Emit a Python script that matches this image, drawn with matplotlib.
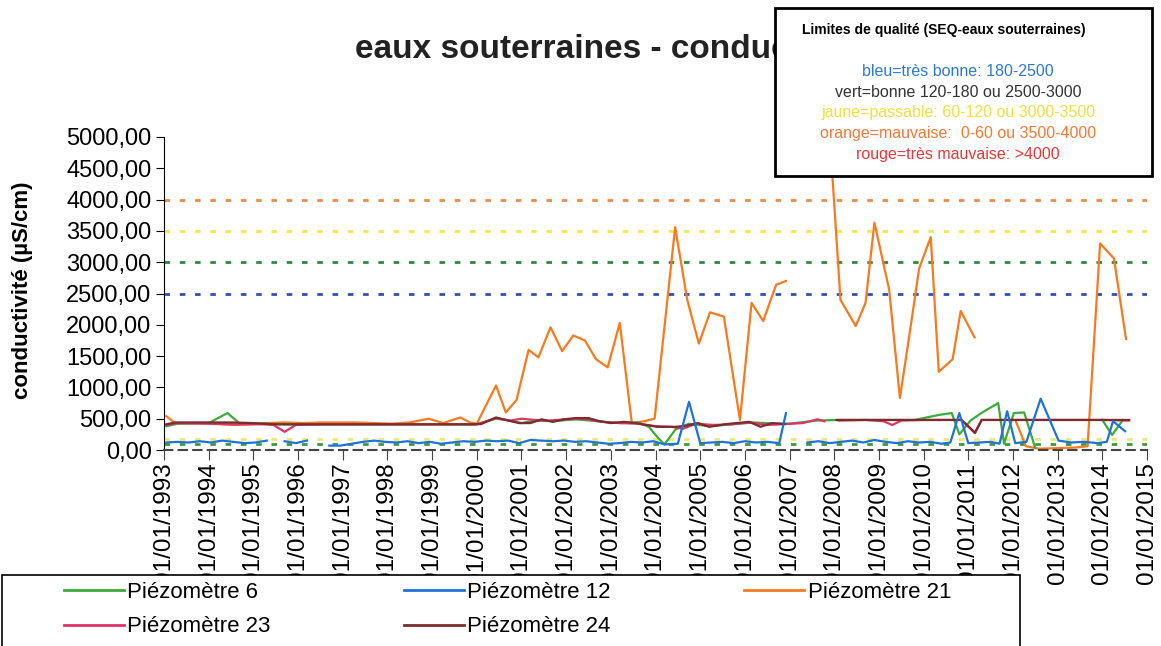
import matplotlib
matplotlib.use("Agg")
import matplotlib.pyplot as plt
from matplotlib.patches import Rectangle
from matplotlib.lines import Line2D
from matplotlib.ticker import FuncFormatter, MultipleLocator
from numpy import nan

plt.rcParams['font.family'] = ['Liberation Sans', 'DejaVu Sans']

# ---- data (decimal years / µS/cm) ----
d6 = [1993.05, 1993.30, 1994.00, 1994.42, 1994.70, 1995.20, 1995.80, 1996.50, 1997.20, 1997.90,
      1998.60, 1999.30, 2000.00, 2000.43, 2000.75, 2001.00, 2001.30, 2001.70, 2002.20, 2002.70,
      2003.20, 2003.60, 2003.85, 2004.05, 2004.20, 2004.45, 2004.75, 2005.20, 2005.70, 2006.20,
      2006.70, 2007.00, 2007.60, 2008.10, 2008.70, 2009.30, 2009.80, 2010.34, 2010.63, 2010.80,
      2011.05, 2011.29, 2011.67, 2011.80, 2012.02, 2012.25, 2012.50, 2013.20, 2014.00, 2014.22,
      2014.46]
v6 = [380, 420, 430, 590, 420, 420, 410, 410, 410, 410,
      410, 410, 410, 500, 470, 430, 470, 460, 490, 460,
      430, 440, 370, 200, 90, 330, 420, 380, 410, 440,
      420, 420, 470, 480, 480, 480, 480, 560, 590, 250,
      470, 590, 750, 100, 590, 600, 30, nan, 480, 240,
      480]

d12 = [1993.05, 1993.30, 1993.55, 1993.80, 1994.05, 1994.30, 1994.55, 1994.80, 1995.05, 1995.30,
       1995.45, 1995.70, 1995.95, 1996.20, 1996.45, 1996.70, 1996.95, 1997.20, 1997.45, 1997.70,
       1997.95, 1998.20, 1998.45, 1998.70, 1998.95, 1999.20, 1999.45, 1999.70, 1999.95, 2000.20,
       2000.45, 2000.70, 2000.95, 2001.20, 2001.45, 2001.70, 2001.95, 2002.20, 2002.45, 2002.70,
       2002.95, 2003.20, 2003.45, 2003.70, 2003.95, 2004.20, 2004.50, 2004.75, 2005.00, 2005.25,
       2005.50, 2005.75, 2006.00, 2006.25, 2006.50, 2006.77, 2006.92, 2007.10, 2007.40, 2007.65,
       2007.90, 2008.15, 2008.40, 2008.65, 2008.90, 2009.15, 2009.40, 2009.65, 2009.90, 2010.15,
       2010.40, 2010.60, 2010.80, 2011.00, 2011.25, 2011.50, 2011.70, 2011.87, 2012.05, 2012.30,
       2012.62, 2013.02, 2013.30, 2013.60, 2013.90, 2014.10, 2014.24, 2014.51]
v12 = [120, 130, 120, 140, 120, 150, 130, 110, 120, 150,
       nan, 140, 110, 150, nan, 70, 70, 100, 130, 150,
       130, 120, 140, 110, 130, 100, 120, 140, 130, 150,
       140, 150, 110, 160, 150, 140, 150, 130, 140, 120,
       100, 110, 130, 120, 140, 90, 100, 770, 110, 120,
       130, 110, 140, 120, 130, 110, 590, nan, 120, 140,
       110, 130, 150, 120, 160, 130, 110, 140, 120, 130,
       100, 120, 590, 110, 120, 130, 100, 620, 110, 130,
       820, 150, 120, 130, 110, 130, 460, 300]

d21 = [1993.05, 1993.25, 1993.55, 1993.90, 1994.30, 1994.60, 1994.90, 1995.30, 1995.70, 1996.10,
       1996.50, 1996.90, 1997.30, 1997.70, 1998.10, 1998.50, 1998.92, 1999.25, 1999.63, 1999.85,
       2000.00, 2000.43, 2000.65, 2000.89, 2001.16, 2001.38, 2001.65, 2001.91, 2002.16, 2002.42,
       2002.67, 2002.93, 2003.20, 2003.47, 2003.75, 2003.98, 2004.44, 2004.71, 2004.97, 2005.22,
       2005.53, 2005.89, 2006.15, 2006.41, 2006.70, 2006.92, 2007.40, 2007.92, 2008.14, 2008.48,
       2008.70, 2008.90, 2009.23, 2009.47, 2009.70, 2009.90, 2010.16, 2010.34, 2010.65, 2010.83,
       2011.14, 2011.60, 2012.07, 2012.29, 2012.60, 2013.00, 2013.40, 2013.67, 2013.95, 2014.26,
       2014.53]
v21 = [540, 430, 430, 430, 410, 400, 410, 430, 440, 430,
       440, 440, 440, 430, 420, 440, 500, 430, 520, 440,
       420, 1030, 600, 800, 1600, 1480, 1960, 1580, 1830, 1750,
       1450, 1320, 2030, 430, 460, 500, 3560, 2400, 1700, 2200,
       2130, 480, 2350, 2060, 2640, 2700, nan, 4800, 2400, 1980,
       2350, 3630, 2560, 830, 1920, 2900, 3400, 1250, 1450, 2220,
       1800, nan, 450, 60, 20, 30, 40, 60, 3300, 3060,
       1775]

d23 = [1993.05, 1993.30, 1994.00, 1994.60, 1995.20, 1995.45, 1995.70, 1995.95, 1996.50, 1997.00,
       1997.50, 1998.00, 1998.50, 1999.00, 1999.50, 2000.00, 2000.43, 2000.75, 2001.00, 2001.30,
       2001.60, 2002.00, 2002.40, 2002.80, 2003.20, 2003.60, 2004.00, 2004.35, 2004.62, 2004.90,
       2005.30, 2005.70, 2006.10, 2006.50, 2006.92, 2007.30, 2007.62, 2007.78, 2007.85, 2008.10,
       2008.70, 2009.10, 2009.30, 2009.50, 2010.00, 2010.50, 2010.85, 2011.15, 2011.30, 2012.00,
       2012.50, 2013.00, 2013.50, 2014.00, 2014.60]
v23 = [400, 430, 420, 410, 410, 400, 290, 400, 410, 410,
       410, 410, 410, 410, 410, 410, 510, 470, 500, 480,
       470, 490, 500, 450, 430, 420, 380, 370, 340, 420,
       400, 410, 440, 400, 415, 430, 490, 460, nan, 470,
       480, 460, 400, 470, 480, 480, 480, 280, 480, 480,
       480, 480, 480, 480, 470]

d24 = [1993.05, 1993.25, 1993.60, 1994.00, 1994.50, 1995.00, 1995.50, 1995.90, 1996.40, 1996.90,
       1997.40, 1997.90, 1998.40, 1998.90, 1999.40, 1999.90, 2000.10, 2000.43, 2000.70, 2000.95,
       2001.20, 2001.45, 2001.70, 2001.95, 2002.20, 2002.50, 2002.75, 2003.00, 2003.30, 2003.55,
       2003.80, 2004.05, 2004.45, 2004.70, 2004.95, 2005.20, 2005.60, 2006.10, 2006.35, 2006.60,
       2006.90, 2007.50, 2008.05, 2008.50, 2009.00, 2009.50, 2010.00, 2010.50, 2010.85, 2011.15,
       2011.30, 2011.80, 2012.30, 2012.80, 2013.30, 2013.80, 2014.20, 2014.60]
v24 = [410, 440, 440, 440, 440, 430, 410, 410, 410, 410,
       410, 410, 410, 410, 410, 410, 415, 520, 470, 430,
       430, 490, 450, 490, 510, 510, 460, 430, 450, 430,
       400, 370, 370, 390, 430, 370, 415, 450, 370, 430,
       415, nan, 480, 480, 480, 480, 480, 480, 480, 270,
       480, 480, 480, 480, 480, 480, 480, 480]

# quality limits (SEQ-eaux souterraines)
limits = [4000, 3500, 3000, 2500, 180, 90]
limit_colors = ['#f08a45', '#f2e84e', '#2e8b3c', '#2f50b8', '#f0e870', '#3a9a40']

years = list(range(1993, 2016))
box_lines = ["bleu=très bonne: 180-2500",
             "vert=bonne 120-180 ou 2500-3000",
             "jaune=passable: 60-120 ou 3000-3500",
             "orange=mauvaise:  0-60 ou 3500-4000",
             "rouge=très mauvaise: >4000"]
box_colors = ['#2f78d0', '#333333', '#f0e040', '#f07a3a', '#e03a3a']

# ---- figure ----
fig = plt.figure(figsize=(11.61, 6.46), dpi=100)
ax = fig.add_axes([164/1161, 1-450/646, 983/1161, 313/646])

for lv, lc in zip(limits, limit_colors):
    ax.axhline(lv, color=lc, lw=2, ls=(0, (2, 3.5)), zorder=1)

ax.plot(d21, v21, color='#f57a20', lw=1.6, label='Piézomètre 21', zorder=2)
ax.plot(d6, v6, color='#3cab3c', lw=1.6, label='Piézomètre 6', zorder=3)
ax.plot(d23, v23, color='#e0336b', lw=1.6, label='Piézomètre 23', zorder=3)
ax.plot(d24, v24, color='#7b2c2c', lw=1.6, label='Piézomètre 24', zorder=4)
ax.plot(d12, v12, color='#1e73d8', lw=1.6, label='Piézomètre 12', zorder=5)

ax.set_xlim(1993, 2015)
ax.set_ylim(0, 5000)
ax.yaxis.set_major_locator(MultipleLocator(500))
ax.yaxis.set_major_formatter(FuncFormatter(lambda v, p: f"{v:.2f}".replace('.', ',')))
ax.set_xticks(years)
ax.set_xticklabels([f"01/01/{y}" for y in years], rotation=90)
ax.tick_params(axis='y', labelsize=17, length=6, pad=3)
ax.tick_params(axis='x', labelsize=17.5, length=7, pad=2, color='#444444')
ax.spines['top'].set_visible(False)
ax.spines['right'].set_visible(False)
ax.spines['bottom'].set_linestyle((0, (4, 3)))
ax.spines['bottom'].set_color('#444444')
ax.spines['bottom'].set_linewidth(1.5)

fig.text(0.019, 1-290/646, "conductivité (µS/cm)", rotation=90, fontsize=16,
         fontweight='bold', ha='center', va='center')
fig.text(355/1161, 1-50/646, "eaux souterraines - conductivité", fontsize=24,
         fontweight='bold', ha='left', va='center', color='#222222')

# quality box
fig.add_artist(Rectangle((775/1161, 1-176/646), 377/1161, 168/646, transform=fig.transFigure,
                         facecolor='white', edgecolor='black', lw=2, zorder=6))
fig.text(944/1161, 1-30/646, "Limites de qualité (SEQ-eaux souterraines)", fontsize=10,
         fontweight='bold', ha='center', va='center', zorder=7)
for i, (t, c) in enumerate(zip(box_lines, box_colors)):
    fig.text(958/1161, 1-(72+20.5*i)/646, t, fontsize=11.5, color=c,
             ha='center', va='center', zorder=7)

# legend
fig.add_artist(Rectangle((2/1161, -0.05), 1018/1161, 0.05+1-575/646, transform=fig.transFigure,
                         facecolor='white', edgecolor='black', lw=1.2, zorder=6))
hmap = {l.get_label(): l for l in ax.get_lines() if not l.get_label().startswith('_')}
order = ['Piézomètre 6', 'Piézomètre 23', 'Piézomètre 12', 'Piézomètre 24', 'Piézomètre 21']
handles = [Line2D([], [], color=hmap[k].get_color(), lw=2) for k in order]
leg = fig.legend(handles, order, loc='upper left', bbox_to_anchor=(64/1161, 1-582/646),
                 ncol=3, frameon=False, fontsize=16, handlelength=2.7, handletextpad=0.15,
                 columnspacing=6.0, labelspacing=0.6, borderpad=0, borderaxespad=0)
leg.set_zorder(8)

fig.savefig("out.png", dpi=100)
